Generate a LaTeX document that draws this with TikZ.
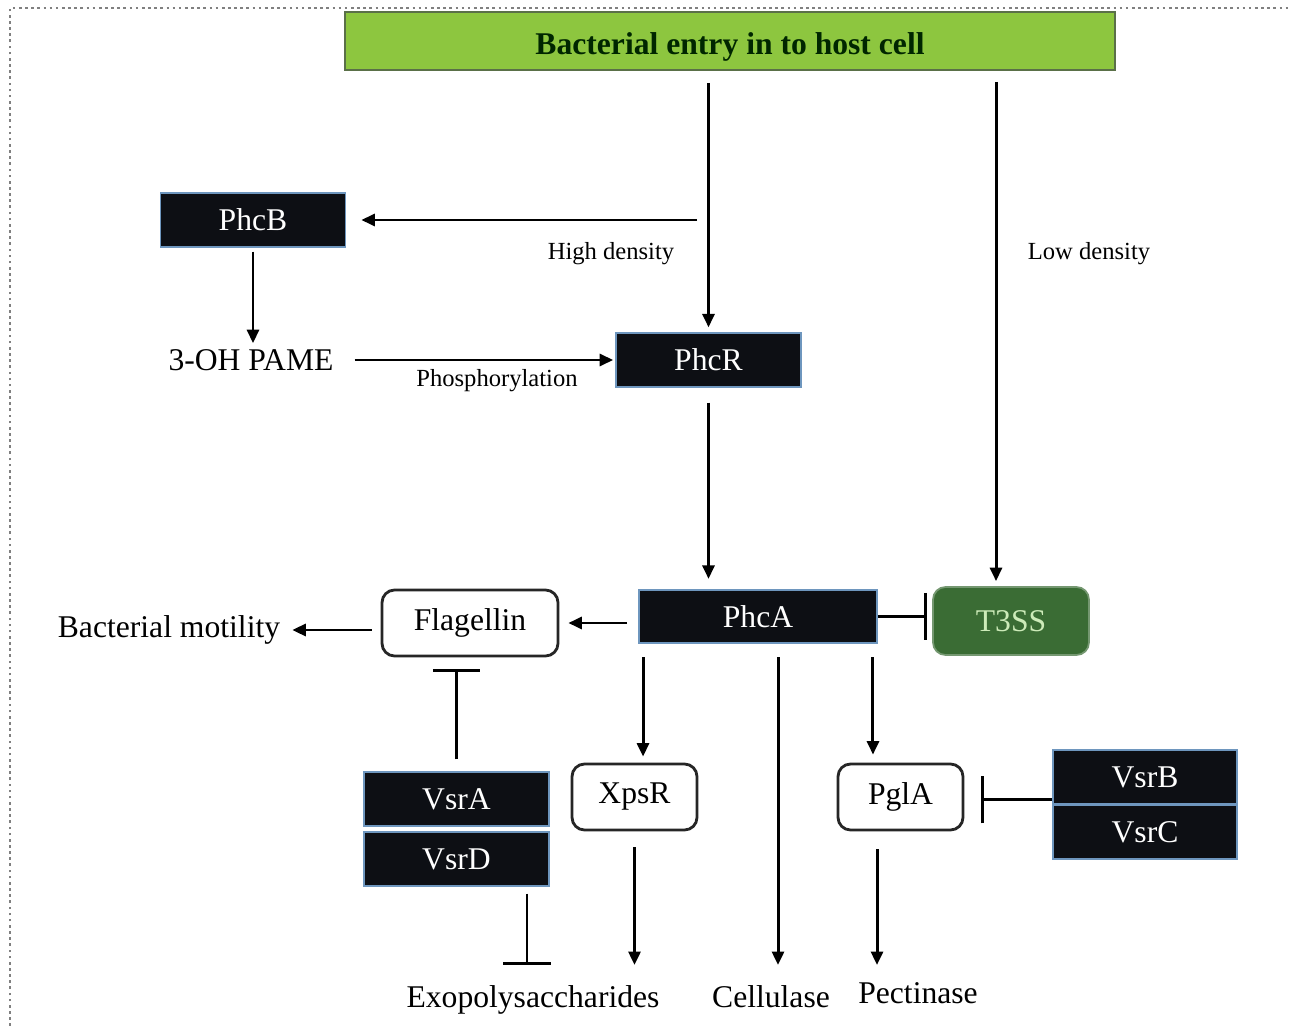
\documentclass[tikz,border=0pt]{standalone}
\usepackage{fontspec}
\setmainfont{Liberation Serif}
\usetikzlibrary{arrows.meta}
\definecolor{titlegreen}{RGB}{141,198,63}
\definecolor{titleedge}{RGB}{90,112,72}
\definecolor{tssgreen}{RGB}{58,108,52}
\definecolor{tsstext}{RGB}{205,235,185}
\definecolor{boxblack}{RGB}{13,15,20}
\definecolor{boxedge}{RGB}{110,150,190}
\begin{document}
\begin{tikzpicture}[x=0.02cm,y=-0.02cm,style={font=\fontsize{18}{21}\selectfont},
  blackbox/.style={fill=boxblack,draw=boxedge,line width=1pt,text=white,minimum width=3.7cm,minimum height=1.07cm,inner sep=0pt},
  whitebox/.style={draw=black!85,line width=1.6pt,rounded corners=0.25cm,fill=white,minimum height=1.32cm,inner sep=0pt},
  lab/.style={font=\fontsize{14}{16}\selectfont},
  arr/.style={line width=1.7pt,-{Triangle[length=0.27cm,width=0.24cm]}},
  inh/.style={line width=1.7pt,-{Bar[width=0.95cm]}}]
\useasboundingbox (0,0) rectangle (1290,1026);
%frame
\draw[gray,dotted,line width=1.5pt] (10,1026) -- (10,8) -- (1290,8);

\node[fill=titlegreen,draw=titleedge,line width=1pt,minimum width=15.4cm,minimum height=1.16cm,text height=0.6cm,text depth=0.04cm,text=black!85!green,font=\fontsize{18}{21}\selectfont\bfseries] (title) at (730,41) {Bacterial entry in to host cell};

\node[blackbox] (phcb) at (253,220) {PhcB};
\node (pame) at (251,360) {3-OH PAME};
\node[blackbox] (phcr) at (708.5,360) {PhcR};
\node[blackbox,minimum width=4.76cm] (phca) at (758,616.5) {PhcA};
\node[fill=tssgreen,draw=tssgreen!70!white,line width=1pt,rounded corners=0.25cm,text=tsstext,minimum width=3.12cm,minimum height=1.36cm] (t3ss) at (1011,621) {T3SS};
\node[whitebox,minimum width=3.52cm] (flag) at (470,623) {Flagellin};
\node (mot) at (169,630) {Bacterial motility};
\node[blackbox] (vsra) at (456.5,799) {VsrA};
\node[blackbox] (vsrd) at (456.5,859) {VsrD};
\node[whitebox,minimum width=2.5cm] (xpsr) at (634.5,797) {XpsR};
\node[whitebox,minimum width=2.5cm] (pgla) at (900.5,797) {PglA};
\node[blackbox,minimum width=3.68cm] (vsrb) at (1145,777) {VsrB};
\node[blackbox,minimum width=3.68cm] (vsrc) at (1145,832) {VsrC};
\node (exo) at (533,1000) {Exopolysaccharides};
\node (cell) at (771,997) {Cellulase};
\node (pect) at (918,993) {Pectinase};

\node[lab] (high) at (611,254) {High density};
\node[lab] (low) at (1089,254) {Low density};
\node[lab] (phos) at (497,381) {Phosphorylation};

\coordinate (hd) at (697,220);
\coordinate (ld) at (996,82);

\draw[arr,shorten <=0.24cm,shorten >=0.1cm] (title.south -| phcr.north) -- (phcr.north);
\draw[arr,shorten >=0.1cm] (ld) -- (ld |- t3ss.north);
\draw[arr,shorten >=0.3cm] (hd) -- (hd -| phcb.east);
\draw[arr,shorten <=0.08cm] (phcb.south) -- (phcb.south |- pame.north);
\draw[arr,shorten <=0.3cm,shorten >=0.04cm] (pame.east) -- (phcr.west |- pame.east);
\draw[arr,shorten <=0.3cm,shorten >=0.2cm] (phcr.south) -- (phcr.south |- phca.north);
\draw[inh,shorten >=0.1cm] (phca.east) -- (phca.east -| t3ss.west);
\draw[arr,shorten <=0.22cm,shorten >=0.18cm] (phca.west |- flag.east) -- (flag.east);
\draw[arr,shorten <=0.18cm,shorten >=0.12cm] (flag.west |- mot.east) -- (mot.east);
\draw[inh,shorten <=0.24cm,shorten >=0.24cm] (vsra.north) -- (vsra.north |- flag.south);
\draw[inh,shorten <=0.14cm] ([xshift=1.41cm]vsrd.south) -- ([xshift=1.41cm]vsrd.south |- 0,965);
\draw[arr,shorten <=0.26cm,shorten >=0.12cm] ([xshift=-2.3cm]phca.south) -- ([xshift=-2.3cm]phca.south |- xpsr.north);
\draw[arr,shorten <=0.26cm] ([xshift=0.4cm]phca.south) -- ([xshift=0.4cm]phca.south |- 0,965);
\draw[arr,shorten <=0.26cm,shorten >=0.16cm] ([xshift=2.3cm]phca.south) -- ([xshift=2.3cm]phca.south |- pgla.north);
\draw[arr,shorten <=0.32cm] (xpsr.south) -- (xpsr.south |- 0,965);
\draw[arr,shorten <=0.36cm] ([xshift=-0.47cm]pgla.south) -- ([xshift=-0.47cm]pgla.south |- 0,965);
\draw[inh,shorten >=0.34cm] ([yshift=0.1cm]vsrb.south west) -- ([yshift=0.1cm]vsrb.south west -| pgla.east);
\end{tikzpicture}
\end{document}
